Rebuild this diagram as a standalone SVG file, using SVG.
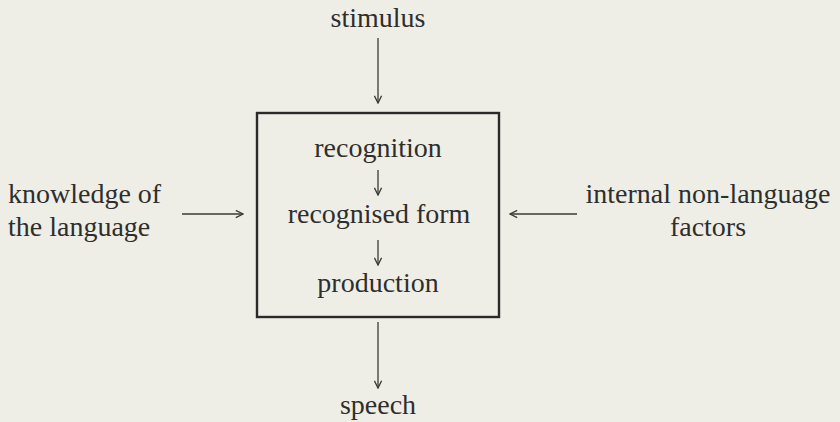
<svg xmlns="http://www.w3.org/2000/svg" width="840" height="422" viewBox="0 0 840 422">
<style>
text{font-family:"Liberation Serif","Times New Roman",serif;font-size:28px;fill:#2e2e2c}
.c{text-anchor:middle}
.ln{stroke:#3a3a38;stroke-width:1.3;fill:none}
</style>
<defs>
<marker id="ah" viewBox="0 0 10 10" refX="9" refY="5" markerWidth="9" markerHeight="9" markerUnits="userSpaceOnUse" orient="auto">
<path d="M1,1 L9,5 L1,9" fill="none" stroke="#3a3a38" stroke-width="1.5"/>
</marker>
</defs>
<rect width="840" height="422" fill="#efeee6"/>
<g id="box">
<rect x="257" y="113" width="242" height="204" fill="none" stroke="#2a2a28" stroke-width="2.4"/>
</g>
<g id="stimulus"><text class="c" x="378" y="27">stimulus</text></g>
<g id="recognition"><text class="c" x="378" y="157">recognition</text></g>
<g id="recognised"><text class="c" x="379" y="223">recognised form</text></g>
<g id="production"><text class="c" x="378" y="292">production</text></g>
<g id="speech"><text class="c" x="378" y="414">speech</text></g>
<g id="knowledge"><text x="8" y="203">knowledge of</text><text x="8" y="236">the language</text></g>
<g id="internal"><text class="c" x="708" y="203">internal non-language</text><text class="c" x="708" y="236">factors</text></g>
<g id="connectors">
<line class="ln" x1="378" y1="38" x2="378" y2="103" marker-end="url(#ah)"/>
<line class="ln" x1="378" y1="170" x2="378" y2="195" marker-end="url(#ah)"/>
<line class="ln" x1="378" y1="240" x2="378" y2="265" marker-end="url(#ah)"/>
<line class="ln" x1="378" y1="322" x2="378" y2="388" marker-end="url(#ah)"/>
<line class="ln" x1="182" y1="214" x2="243" y2="214" marker-end="url(#ah)"/>
<line class="ln" x1="577" y1="214" x2="510" y2="214" marker-end="url(#ah)"/>
</g>
</svg>
